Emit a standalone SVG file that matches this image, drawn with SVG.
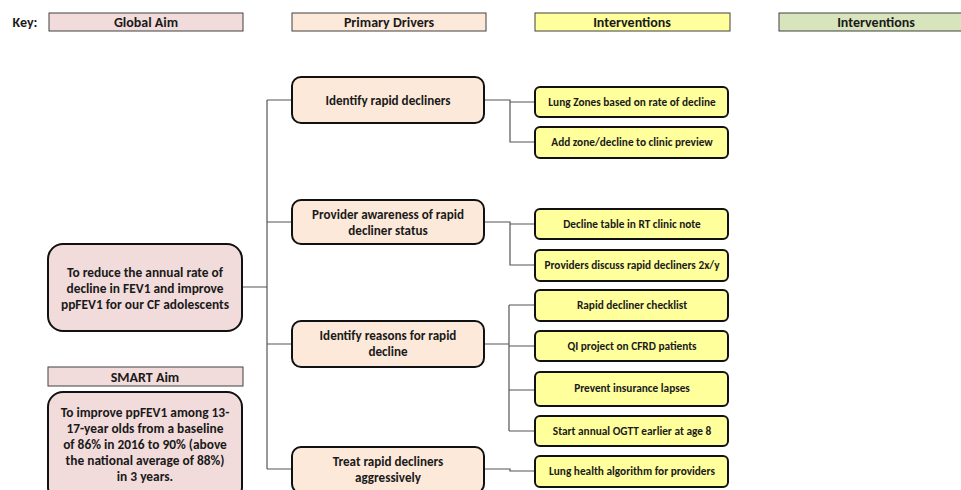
<svg xmlns="http://www.w3.org/2000/svg" width="961" height="490" viewBox="0 0 961 490">
<style>
text{font-family:Carlito,"Liberation Sans",Arial,sans-serif;font-weight:bold;fill:#1a1a1a;text-anchor:middle}
.hdr{stroke:#404040;stroke-width:1}
.node{stroke:#111;stroke-width:2}
.aim{fill:#F2DCDB}
.drv{fill:#FDE9D9}
.int{fill:#FFFF9B}
.grn{fill:#D8E4BC}
.h{font-size:14px}
.t{font-size:13.4px}
.d{font-size:13.1px}
.s{font-size:11.3px}
.c{fill:none;stroke:#555;stroke-width:1.2}
</style>
<rect width="961" height="490" fill="#fff"/>
<g id="key">
<text x="25" y="27" class="h">Key:</text>
<rect class="hdr aim" x="49" y="13" width="194" height="18"/>
<text x="146" y="27" class="h">Global Aim</text>
<rect class="hdr drv" x="292" y="13" width="194" height="18"/>
<text x="389" y="27" class="h">Primary Drivers</text>
<rect class="hdr int" x="535" y="13" width="195" height="18"/>
<text x="632" y="27" class="h">Interventions</text>
<rect class="hdr grn" x="779" y="13" width="195" height="18"/>
<text x="876" y="27" class="h">Interventions</text>
</g>
<g id="connectors">
<path class="c" d="M242 287H267M267 100V469M267 100H292M267 222H292M267 344H292M267 469H292"/>
<path class="c" d="M484 100H510V102H535M510 102V142H535"/>
<path class="c" d="M484 222H510V224H535M510 224V265H535"/>
<path class="c" d="M484 344H509M509 305V431M509 305H535M509 346H535M509 390H535M509 431H535"/>
<path class="c" d="M484 469H510V471H535"/>
</g>
<g id="global-aim">
<rect class="node aim" x="48" y="244" width="194" height="87" rx="15"/>
<text class="t" x="145" y="277">To reduce the annual rate of</text>
<text class="t" x="145" y="293">decline in FEV1 and improve</text>
<text class="t" x="145" y="309">ppFEV1 for our CF adolescents</text>
</g>
<g id="smart-aim-label">
<rect class="hdr aim" x="48" y="367" width="195" height="19"/>
<text x="145" y="382" class="h">SMART Aim</text>
</g>
<g id="smart-aim">
<rect class="node aim" x="48" y="392" width="194" height="110" rx="15"/>
<text class="t" x="145" y="417">To improve ppFEV1 among 13-</text>
<text class="t" x="145" y="433">17-year olds from a baseline</text>
<text class="t" x="145" y="449">of 86% in 2016 to 90% (above</text>
<text class="t" x="145" y="465">the national average of 88%)</text>
<text class="t" x="145" y="481">in 3 years.</text>
</g>
<g id="d1">
<rect class="node drv" x="292" y="77" width="192" height="46" rx="9"/>
<text class="d" x="388" y="105">Identify rapid decliners</text>
</g>
<g id="d2">
<rect class="node drv" x="292" y="200" width="192" height="44" rx="9"/>
<text class="d" x="388" y="219">Provider awareness of rapid</text>
<text class="d" x="388" y="235">decliner status</text>
</g>
<g id="d3">
<rect class="node drv" x="292" y="321" width="192" height="46" rx="9"/>
<text class="d" x="388" y="340">Identify reasons for rapid</text>
<text class="d" x="388" y="356">decline</text>
</g>
<g id="d4">
<rect class="node drv" x="292" y="447" width="192" height="46" rx="9"/>
<text class="d" x="388" y="466">Treat rapid decliners</text>
<text class="d" x="388" y="482">aggressively</text>
</g>
<g id="i1"><rect class="node int" x="535" y="87" width="193" height="30" rx="5"/><text class="s" x="632" y="106">Lung Zones based on rate of decline</text></g>
<g id="i2"><rect class="node int" x="535" y="127" width="193" height="31" rx="5"/><text class="s" x="632" y="146">Add zone/decline to clinic preview</text></g>
<g id="i3"><rect class="node int" x="535" y="209" width="193" height="30" rx="5"/><text class="s" x="632" y="228">Decline table in RT clinic note</text></g>
<g id="i4"><rect class="node int" x="535" y="250" width="193" height="31" rx="5"/><text class="s" x="632" y="269">Providers discuss rapid decliners 2x/y</text></g>
<g id="i5"><rect class="node int" x="535" y="290" width="193" height="31" rx="5"/><text class="s" x="632" y="309">Rapid decliner checklist</text></g>
<g id="i6"><rect class="node int" x="535" y="331" width="193" height="30" rx="5"/><text class="s" x="632" y="350">QI project on CFRD patients</text></g>
<g id="i7"><rect class="node int" x="535" y="372" width="193" height="34" rx="5"/><text class="s" x="632" y="392">Prevent insurance lapses</text></g>
<g id="i8"><rect class="node int" x="535" y="416" width="193" height="30" rx="5"/><text class="s" x="632" y="435">Start annual OGTT earlier at age 8</text></g>
<g id="i9"><rect class="node int" x="535" y="456" width="193" height="31" rx="5"/><text class="s" x="632" y="475">Lung health algorithm for providers</text></g>
</svg>
